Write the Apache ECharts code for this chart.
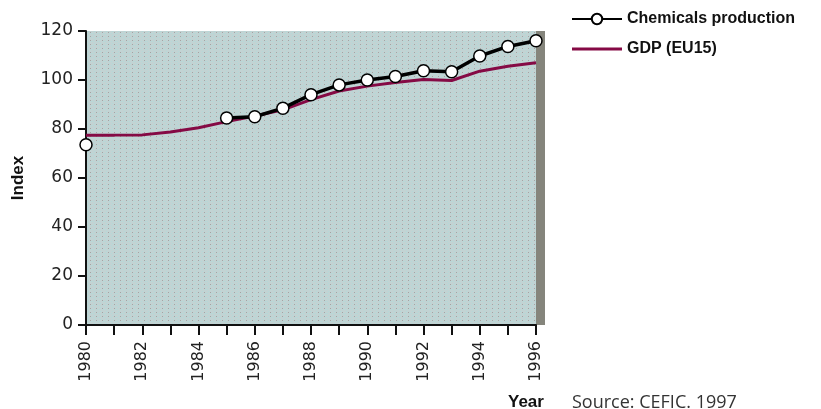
<!DOCTYPE html>
<html>
<head>
<meta charset="utf-8">
<script src="https://cdn.jsdelivr.net/npm/echarts@6/dist/echarts.min.js"></script>
<style>
  html, body { margin: 0; padding: 0; background: #fff; }
  #chart { width: 821px; height: 409px; }
</style>
</head>
<body>
<div id="chart"></div>
<script>
// years on the x axis
var years = ['1980', '1981', '1982', '1983', '1984', '1985', '1986', '1987', '1988',
             '1989', '1990', '1991', '1992', '1993', '1994', '1995', '1996'];
// index values (no chemicals data for 1981-1984)
var chemicals = [73.6, null, null, null, null, 84.5, 85, 88.5, 94, 98, 100, 101.4, 103.8, 103.4, 109.8, 113.7, 116];
var gdp = [77.5, 77.5, 77.6, 78.8, 80.5, 83, 85.3, 87.8, 92, 95.5, 97.5, 99, 100.2, 99.8, 103.6, 105.6, 107];
var yTicks = { min: 0, max: 120, step: 20 };

// dotted grey-teal background like the original
var pat = document.createElement('canvas');
pat.width = 6; pat.height = 4;
var pc = pat.getContext('2d');
pc.fillStyle = '#c2d3d3';
pc.fillRect(0, 0, 6, 4);
pc.fillStyle = '#b2dada';
pc.fillRect(1, 1, 1, 1);
pc.fillRect(4, 3, 1, 1);
pc.fillRect(3, 1, 1, 1);
pc.fillStyle = '#a4a4a4';
pc.fillRect(0, 0, 1, 1);

var chart = echarts.init(document.getElementById('chart'));
var labelFont = { fontFamily: 'DejaVu Sans', fontSize: 17, color: '#222' };

var option = {
    animation: false,
    title: [
        { text: 'Year', left: 503, top: 389,
          textStyle: { fontFamily: 'Liberation Sans', fontWeight: 'bold', fontSize: 17, color: '#111' } },
        { text: 'Source: CEFIC. 1997', left: 567, top: 389,
          textStyle: { fontFamily: 'Open Sans', fontWeight: 'normal', fontSize: 18, color: '#333' } }
    ],
    legend: {
        orient: 'vertical',
        left: 566,
        top: 6,
        itemWidth: 50,
        itemHeight: 13,
        itemGap: 14,
        data: [
            { name: 'Chemicals production' },
            { name: 'GDP (EU15)', icon: 'path://M0,0L50,0L50,3L0,3Z' }
        ],
        textStyle: { fontFamily: 'Liberation Sans', fontWeight: 'bold', fontSize: 16, color: '#111' }
    },
    grid: {
        left: 86, right: 285, top: 31, bottom: 84,
        show: true,
        borderWidth: 0,
        backgroundColor: { image: pat, repeat: 'repeat' },
        shadowColor: '#85857c',
        shadowBlur: 0,
        shadowOffsetX: 9,
        shadowOffsetY: 0
    },
    xAxis: {
        type: 'category',
        data: years,
        boundaryGap: false,
        axisLine: { lineStyle: { color: '#111', width: 2 } },
        axisTick: { interval: 0, length: 10, lineStyle: { color: '#111', width: 2 } },
        axisLabel: Object.assign({ interval: 1, rotate: 90, margin: 16 }, labelFont, { fontSize: 16 }),
        splitLine: { show: false }
    },
    yAxis: {
        type: 'value',
        min: yTicks.min, max: yTicks.max, interval: yTicks.step,
        name: 'Index',
        nameLocation: 'middle',
        nameRotate: 90,
        nameGap: 59,
        nameTextStyle: { fontFamily: 'Liberation Sans', fontWeight: 'bold', fontSize: 17, color: '#111' },
        axisLine: { show: true, lineStyle: { color: '#111', width: 2 } },
        axisTick: { show: true, length: 8, lineStyle: { color: '#111', width: 2 } },
        axisLabel: Object.assign({ margin: 13 }, labelFont),
        splitLine: { show: false }
    },
    series: [
        {
            name: 'Chemicals production',
            type: 'line',
            data: chemicals,
            z: 4,
            connectNulls: false,
            symbol: 'circle',
            symbolSize: 12,
            showAllSymbol: true,
            lineStyle: { color: '#000', width: 3.5 },
            itemStyle: { color: '#fff', borderColor: '#000', borderWidth: 1.5 }
        },
        {
            name: 'GDP (EU15)',
            type: 'line',
            data: gdp,
            z: 3,
            symbol: 'none',
            lineStyle: { color: '#850a45', width: 3 },
            itemStyle: { color: '#850a45' }
        }
    ]
};

chart.setOption(option);
</script>
</body>
</html>
